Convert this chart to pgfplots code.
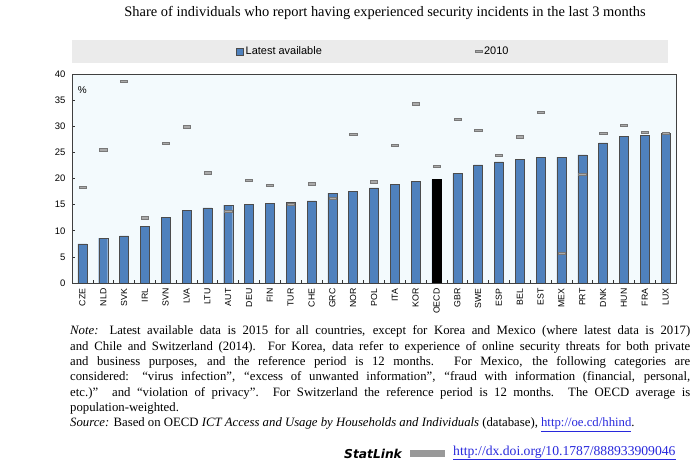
\documentclass[border=0pt]{standalone}
\usepackage{pgfplots}
\pgfplotsset{compat=1.18}
\usepackage{pgfplotstable}
\usepackage{fontspec}
\setmainfont{Liberation Serif}
\setsansfont{Liberation Sans}
\newfontfamily\statfont{DejaVu Sans}
\definecolor{oecdblue}{RGB}{79,129,189}
\definecolor{plotbg}{RGB}{243,250,253}
\definecolor{legbg}{RGB}{235,235,235}
\definecolor{dashfill}{RGB}{170,170,170}
\definecolor{dashdraw}{RGB}{120,120,120}
\definecolor{linkblue}{RGB}{40,40,220}
\pgfplotsset{barleg/.style={legend image code/.code={\draw[##1] (0bp,-3.5bp) rectangle (7bp,3.5bp);}}}
\pgfplotstableread{
x lab latest y2010
0 CZE 7.5 18.3
1 NLD 8.6 25.5
2 SVK 9.0 38.6
3 IRL 10.9 12.5
4 SVN 12.6 26.8
5 LVA 13.9 29.9
6 LTU 14.4 21.1
7 AUT 14.9 13.8
8 DEU 15.1 19.7
9 FIN 15.3 18.7
10 TUR 15.5 15.1
11 CHE 15.7 19.0
12 GRC 17.2 16.2
13 NOR 17.6 28.4
14 POL 18.2 19.4
15 ITA 18.9 26.3
16 KOR 19.4 34.3
17 OECD 19.8 22.3
18 GBR 21.0 31.3
19 SWE 22.6 29.3
20 ESP 23.2 24.5
21 BEL 23.6 28.0
22 EST 24.0 32.7
23 MEX 24.1 5.7
24 PRT 24.5 20.8
25 DNK 26.8 28.7
26 HUN 28.0 30.2
27 FRA 28.3 28.9
28 LUX 28.6 28.7
}\data
\begin{document}
\begin{tikzpicture}[x=1bp,y=1bp]
\path[use as bounding box] (0,0) rectangle (700,468);
\node[font=\fontsize{14.5}{16}\selectfont] at (385,455) {Share of individuals who report having experienced security incidents in the last 3 months};
\fill[legbg] (72,405) rectangle (668,428);
\begin{axis}[
  at={(72bp,185bp)}, anchor=south west,
  width=604bp, height=209bp, scale only axis,
  xmin=-0.5, xmax=28.5, ymin=0, ymax=40,
  ytick={0,5,...,40},
  xtick={0,...,28},
  xticklabels from table={\data}{lab},
  minor xtick={0.5,1.5,...,27.5},
  xtick pos=lower, ytick pos=left,
  major tick length=3bp, minor tick length=3bp,
  tick align=inside,
  every major x tick/.style={draw=none},
  tick style={draw=black!80, line width=0.6pt},
  axis line style={draw=black!75, line width=0.6pt},
  axis background/.style={fill=plotbg},
  y tick label style={font=\sffamily\fontsize{9.5}{10}\selectfont},
  x tick label style={font=\sffamily\fontsize{8.8}{9}\selectfont, rotate=90, anchor=east},
  /pgf/number format/assume math mode=true,
  xticklabel shift=2bp, yticklabel shift=3bp,
  legend columns=2,
  legend style={at={(0.499,1.108)}, anchor=center, draw=none, fill=none,
    font=\sffamily\fontsize{11}{12}\selectfont,
    /tikz/every even column/.append style={column sep=151bp}},
  legend cell align=left,
]
\addplot[ybar, bar width=9bp, bar shift=0pt, fill=oecdblue, draw=black!70, line width=0.4pt, barleg]
  table[x=x, y=latest] {\data};
\addlegendentry{Latest available}
\addplot[ybar, bar width=9bp, bar shift=0pt, fill=black, draw=black, line width=0.4pt, forget plot]
  coordinates {(17,19.8)};
\addplot[only marks, mark=square*, mark size=3.6bp,
  mark options={yscale=0.3, fill=dashfill, draw=dashdraw, line width=0.4pt}]
  table[x=x, y=y2010] {\data};
\addlegendentry{2010}
\node[font=\sffamily\fontsize{10}{11}\selectfont] at (axis cs:0,36.9) {\%};
\end{axis}
\node[anchor=north west, text width=620bp, align=justify, inner sep=0pt,
  font=\fontsize{12.8}{15.4}\selectfont] at (70,142.5) {\tolerance=10000\hbadness=10000\textit{Note:} Latest available data is 2015 for all countries, except for Korea and Mexico (where latest data is 2017)\linebreak and Chile and Switzerland (2014). For Korea, data refer to experience of online security threats for both private\linebreak and business purposes, and the reference period is 12 months. For Mexico, the following categories are\linebreak considered: “virus infection”, “excess of unwanted information”, “fraud with information (financial, personal,\linebreak etc.)” and “violation of privacy”. For Switzerland the reference period is 12 months. The OECD average is\linebreak population-weighted.\par
\textit{Source:} Based on OECD \textit{ICT Access and Usage by Households and Individuals} (database), \textcolor{linkblue}{\underline{http://oe.cd/hhind}}.};
\node[anchor=west, inner sep=0pt] at (344,14) {{\statfont\bfseries\itshape\fontsize{12.3}{14}\selectfont StatLink}};
\fill[gray!80] (410,11) rectangle (445,18);
\node[anchor=west, inner sep=0pt, font=\fontsize{13.7}{15}\selectfont] at (453,15) {\textcolor{linkblue}{\underline{http://dx.doi.org/10.1787/888933909046}}};
\end{tikzpicture}
\end{document}
